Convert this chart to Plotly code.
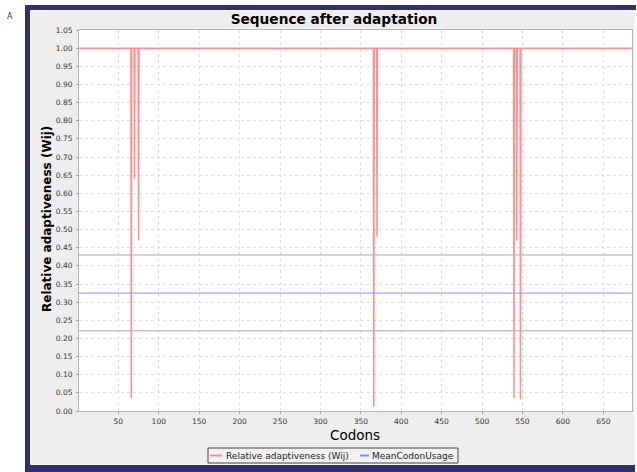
import plotly.graph_objects as go

# Relative adaptiveness (Wij) per codon: breakpoints
codons = [1, 65.5, 66, 66.5, 69.5, 70, 70.5, 74.5, 75, 75.5,
          365.5, 366, 366.5, 369.5, 370, 370.5,
          539, 539.5, 540, 542.5, 543, 543.5, 547, 547.5, 548, 686]
wij = [1.0, 1.0, 0.035, 1.0, 1.0, 0.64, 1.0, 1.0, 0.47, 1.0,
       1.0, 0.012, 1.0, 1.0, 0.48, 1.0,
       1.0, 0.035, 1.0, 1.0, 0.47, 1.0, 1.0, 0.032, 1.0, 1.0]

mean_x = [1, 686]
mean_usage = [0.325, 0.325]
upper_band = [0.43, 0.43]
lower_band = [0.221, 0.221]

series_names = ["Relative adaptiveness (Wij)", "MeanCodonUsage"]
series_colors = ["#FF8F8F", "#8C8CFF"]

x_ticks = [50, 100, 150, 200, 250, 300, 350, 400, 450, 500, 550, 600, 650]
y_ticks = [round(i * 0.05, 2) for i in range(22)]

FONT = "DejaVu Sans"
L, R, T, B = 79, 5, 30, 61
W, H = 637, 472
pw, ph = W - L - R, H - T - B


def px(x):
    return (x - L) / pw


def py(y):
    return (H - B - y) / ph


fig = go.Figure()
fig.add_trace(go.Scatter(x=mean_x, y=upper_band, mode="lines",
                         line=dict(color="#A8A8A8", width=1),
                         showlegend=False, hoverinfo="skip"))
fig.add_trace(go.Scatter(x=mean_x, y=lower_band, mode="lines",
                         line=dict(color="#A8A8A8", width=1),
                         showlegend=False, hoverinfo="skip"))
fig.add_trace(go.Scatter(x=codons, y=wij, mode="lines",
                         name=series_names[0], showlegend=False,
                         line=dict(color=series_colors[0], width=1.5)))
fig.add_trace(go.Scatter(x=mean_x, y=mean_usage, mode="lines",
                         name=series_names[1], showlegend=False,
                         line=dict(color=series_colors[1], width=1)))

# frame / panel
shapes = [
    dict(type="rect", xref="paper", yref="paper", layer="below",
         x0=px(25), x1=px(636), y0=py(472), y1=py(5),
         line=dict(width=0), fillcolor="#2F3168"),
    dict(type="rect", xref="paper", yref="paper", layer="below",
         x0=px(30.5), x1=px(634.5), y0=py(464.5), y1=py(10.5),
         line=dict(color="#F8F8F8", width=1), fillcolor="#EEEEEE"),
    dict(type="rect", xref="paper", yref="paper", layer="below",
         x0=px(635), x1=px(640), y0=py(472), y1=py(10),
         line=dict(width=0), fillcolor="#FAFAFA"),
    dict(type="rect", xref="paper", yref="paper", layer="below",
         x0=0, x1=1, y0=0, y1=1,
         line=dict(width=0), fillcolor="white"),
    # legend box
    dict(type="rect", xref="paper", yref="paper",
         x0=px(208), x1=px(458), y0=py(463), y1=py(448),
         line=dict(color="#444444", width=1), fillcolor="#F2F2F2"),
    dict(type="line", xref="paper", yref="paper",
         x0=px(210), x1=px(222), y0=py(455.5), y1=py(455.5),
         line=dict(color=series_colors[0], width=2)),
    dict(type="line", xref="paper", yref="paper",
         x0=px(360), x1=px(369), y0=py(455.5), y1=py(455.5),
         line=dict(color=series_colors[1], width=2)),
]

annotations = [
    dict(text="Codons", xref="paper", yref="paper",
         x=px(355), y=py(435), xanchor="center", yanchor="middle",
         showarrow=False, font=dict(family=FONT, size=13.5, color="#000000")),
    dict(text="<b>Relative adaptiveness (Wij)</b>", xref="paper", yref="paper",
         x=px(47), y=py(219), xanchor="center", yanchor="middle",
         textangle=-90, showarrow=False,
         font=dict(family=FONT, size=12, color="#000000")),
    dict(text="A", xref="paper", yref="paper",
         x=px(10), y=py(17), xanchor="center", yanchor="middle",
         showarrow=False, font=dict(family=FONT, size=8, color="#333333")),
    dict(text=series_names[0], xref="paper", yref="paper",
         x=px(224), y=py(455.5), xanchor="left", yanchor="middle",
         showarrow=False, font=dict(family=FONT, size=9, color="#222222")),
    dict(text=series_names[1], xref="paper", yref="paper",
         x=px(370), y=py(455.5), xanchor="left", yanchor="middle",
         showarrow=False, font=dict(family=FONT, size=9, color="#222222")),
]

fig.update_layout(
    width=W, height=H,
    margin=dict(l=L, r=R, t=T, b=B, pad=0),
    paper_bgcolor="white",
    plot_bgcolor="white",
    font=dict(family=FONT, color="#333333", size=7.5),
    title=dict(text="<b>Sequence after adaptation</b>",
               font=dict(family=FONT, size=13.7, color="#000000"),
               x=334 / W, xanchor="center", y=1 - 19.5 / H, yanchor="middle"),
    showlegend=False,
    xaxis=dict(range=[1.3, 685.5], tickvals=x_ticks,
               showgrid=True, gridcolor="#DDDDDD", griddash="dot", gridwidth=1,
               showline=True, linecolor="#B4B4B4", mirror=True, linewidth=1,
               ticks="outside", ticklen=2, tickcolor="#A0A0A0",
               ticklabelstandoff=1,
               tickfont=dict(size=7.5, color="#333333"), zeroline=False),
    yaxis=dict(range=[0, 1.05], tickvals=y_ticks,
               ticktext=[f"{v:.2f}" for v in y_ticks],
               showgrid=True, gridcolor="#DDDDDD", griddash="dot", gridwidth=1,
               showline=True, linecolor="#B4B4B4", mirror=True, linewidth=1,
               ticks="outside", ticklen=2, tickcolor="#A0A0A0",
               ticklabelstandoff=2,
               tickfont=dict(size=7.5, color="#333333"), zeroline=False),
    shapes=shapes,
    annotations=annotations,
)

fig.write_html("out.html")
